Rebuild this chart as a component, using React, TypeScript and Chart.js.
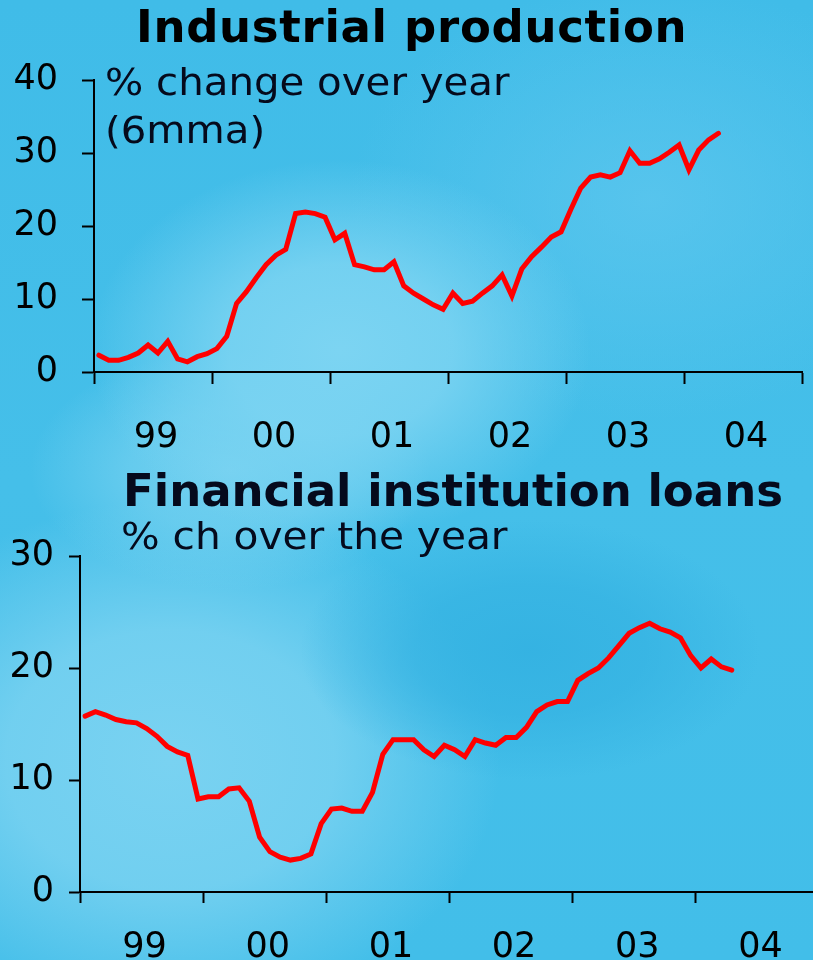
import React, { useEffect, useRef } from 'react';
import { Chart, registerables } from 'chart.js';

Chart.register(...registerables);

const FONT = '"DejaVu Sans", Verdana, sans-serif';

// Year labels shown under the x axis (each centred in its year)
const yearLabels: string[] = ['99', '00', '01', '02', '03', '04'];
const firstYear = 1999;

// Monthly observations, Jan 1999 .. Apr 2004
const industrialProduction: number[] = [
  2.3, 1.6, 1.6, 2.0, 2.6, 3.7, 2.6, 4.2, 1.8, 1.4,
  2.1, 2.5, 3.2, 4.9, 9.4, 11.0, 12.9, 14.7, 16.0, 16.8,
  21.7, 21.9, 21.7, 21.2, 18.1, 19.0, 14.7, 14.4, 14.0, 14.0,
  15.1, 11.8, 10.8, 10.0, 9.2, 8.6, 10.8, 9.4, 9.7, 10.8,
  11.8, 13.3, 10.4, 14.1, 15.8, 17.1, 18.5, 19.2, 22.3, 25.2,
  26.7, 27.0, 26.7, 27.3, 30.3, 28.6, 28.6, 29.2, 30.1, 31.1,
  27.7, 30.4, 31.8, 32.7,
];

const financialLoans: number[] = [
  15.7, 16.1, 15.8, 15.4, 15.2, 15.1, 14.6, 13.9, 13.0, 12.5,
  12.2, 8.3, 8.5, 8.5, 9.2, 9.3, 8.1, 4.9, 3.6, 3.1,
  2.85, 3.0, 3.4, 6.1, 7.4, 7.5, 7.2, 7.2, 8.9, 12.3,
  13.6, 13.6, 13.6, 12.7, 12.1, 13.1, 12.7, 12.1, 13.6, 13.3,
  13.1, 13.8, 13.8, 14.7, 16.1, 16.7, 17.0, 17.0, 18.9, 19.5,
  20.0, 20.9, 22.0, 23.1, 23.6, 24.0, 23.5, 23.2, 22.7, 21.1,
  20.0, 20.8, 20.1, 19.8,
];

const industrialTicks: number[] = [0, 10, 20, 30, 40];
const loansTicks: number[] = [0, 10, 20, 30];

// month labels "YYYY-MM" for each observation
const months: string[] = industrialProduction.map((_, i) => {
  const y = firstYear + Math.floor(i / 12);
  const m = (i % 12) + 1;
  return `${y}-${m < 10 ? '0' + m : m}`;
});

function monthPos(label: string): number {
  const [y, m] = label.split('-').map(Number);
  return (y - firstYear) * 12 + (m - 1) + 0.5; // centre of the month
}

type Geo = {
  canvasW: number;
  canvasH: number;
  areaLeft: number;
  areaRight: number;
  areaTop: number;
  areaBottom: number;
  tickLen: number;
  yPad: number;
  xPad: number;
  yMax: number;
  yTicks: number[];
};

function buildChart(canvas: HTMLCanvasElement, values: number[], g: Geo) {
  const axisTicks: number[] = [];
  for (let k = 0; k <= yearLabels.length * 12; k += 6) axisTicks.push(k);
  const isYearBoundary = (v: number) => Math.round(v) % 12 === 0;

  return new Chart(canvas, {
    type: 'line',
    data: {
      datasets: [
        {
          data: values.map((v, i) => ({ x: monthPos(months[i]), y: v })),
          borderColor: '#ff0000',
          borderWidth: 5,
          pointRadius: 0,
          fill: false,
          tension: 0,
          borderCapStyle: 'round',
          borderJoinStyle: 'miter',
        },
      ],
    },
    options: {
      responsive: false,
      animation: false,
      events: [],
      layout: {
        padding: {
          top: g.areaTop,
          left: 0,
          right: g.canvasW - g.areaRight,
          bottom: 0,
        },
      },
      plugins: {
        legend: { display: false },
        tooltip: { enabled: false },
        title: { display: false },
      },
      scales: {
        x: {
          type: 'linear',
          min: 0,
          max: yearLabels.length * 12,
          afterBuildTicks: (s: any) => {
            s.ticks = axisTicks.map((v) => ({ value: v }));
          },
          afterFit: (s: any) => {
            s.height = g.canvasH - g.areaBottom;
            s.paddingLeft = 0;
            s.paddingRight = 0;
          },
          grid: {
            drawOnChartArea: false,
            drawTicks: true,
            tickLength: g.tickLen,
            tickColor: (ctx: any) => (ctx.tick && isYearBoundary(ctx.tick.value) ? '#000' : 'rgba(0,0,0,0)'),
            tickWidth: (ctx: any) => (ctx.tick && isYearBoundary(ctx.tick.value) ? 2 : 0),
          },
          border: { display: true, color: '#000', width: 2 },
          ticks: {
            autoSkip: false,
            maxRotation: 0,
            minRotation: 0,
            padding: g.xPad,
            labelOffset: 3,
            color: '#000',
            font: { family: FONT, size: 35 },
            callback: (v: any) => {
              const n = Math.round(Number(v));
              if (n % 12 === 6) return yearLabels[(n - 6) / 12];
              return '';
            },
          },
        },
        y: {
          type: 'linear',
          min: 0,
          max: g.yMax,
          afterBuildTicks: (s: any) => {
            s.ticks = g.yTicks.map((v) => ({ value: v }));
          },
          afterFit: (s: any) => {
            s.width = g.areaLeft;
            s.paddingTop = 0;
            s.paddingBottom = 0;
          },
          grid: {
            drawOnChartArea: false,
            drawTicks: true,
            tickLength: g.tickLen,
            tickColor: '#000',
            tickWidth: 2,
          },
          border: { display: true, color: '#000', width: 2 },
          ticks: {
            padding: g.yPad,
            color: '#000',
            font: { family: FONT, size: 35 },
          },
        },
      },
    } as any,
  });
}

const topGeo: Geo = {
  canvasW: 813,
  canvasH: 460,
  areaLeft: 94,
  areaRight: 802,
  areaTop: 80,
  areaBottom: 372,
  tickLen: 12,
  yPad: 24,
  xPad: 33,
  yMax: 40,
  yTicks: industrialTicks,
};

const bottomGeo: Geo = {
  canvasW: 830,
  canvasH: 500,
  areaLeft: 80,
  areaRight: 819,
  areaTop: 96,
  areaBottom: 432,
  tickLen: 11,
  yPad: 15,
  xPad: 24,
  yMax: 30,
  yTicks: loansTicks,
};

const background = [
  'radial-gradient(ellipse 230px 130px at 530px 650px, rgba(52,178,226,0.95) 0%, rgba(52,178,226,0.7) 50%, rgba(52,178,226,0) 100%)',
  'radial-gradient(ellipse 250px 190px at 340px 350px, rgba(124,212,242,1) 0%, rgba(124,212,242,0.85) 45%, rgba(124,212,242,0) 100%)',
  'radial-gradient(ellipse 200px 120px at 230px 470px, rgba(122,211,241,0.9) 0%, rgba(122,211,241,0.6) 50%, rgba(122,211,241,0) 100%)',
  'radial-gradient(ellipse 330px 260px at 170px 760px, rgba(121,210,241,1) 0%, rgba(121,210,241,0.85) 50%, rgba(121,210,241,0) 100%)',
  'radial-gradient(ellipse 300px 220px at 650px 200px, rgba(92,198,238,0.8) 0%, rgba(92,198,238,0) 100%)',
  'linear-gradient(180deg, #40bce8 0%, #45bfe9 50%, #42bee9 100%)',
].join(',');

export default function App() {
  const topRef = useRef<HTMLCanvasElement | null>(null);
  const botRef = useRef<HTMLCanvasElement | null>(null);

  useEffect(() => {
    const c1 = buildChart(topRef.current!, industrialProduction, topGeo);
    const c2 = buildChart(botRef.current!, financialLoans, bottomGeo);
    return () => {
      c1.destroy();
      c2.destroy();
    };
  }, []);

  const titleStyle: React.CSSProperties = {
    position: 'absolute',
    fontFamily: FONT,
    fontWeight: 'bold',
    fontSize: 45,
    lineHeight: '45px',
    color: '#050a1c',
    whiteSpace: 'nowrap',
    transformOrigin: 'left top',
  };
  const subStyle: React.CSSProperties = {
    position: 'absolute',
    fontFamily: FONT,
    fontSize: 38,
    lineHeight: '48px',
    color: '#050a1c',
    whiteSpace: 'nowrap',
    transformOrigin: 'left top',
  };

  return (
    <div
      style={{
        position: 'absolute',
        left: 0,
        top: 0,
        width: 813,
        height: 960,
        overflow: 'hidden',
        background,
      }}
    >
      <canvas
        ref={topRef}
        width={topGeo.canvasW}
        height={topGeo.canvasH}
        style={{ position: 'absolute', left: 0, top: 0, width: topGeo.canvasW, height: topGeo.canvasH }}
      />
      <canvas
        ref={botRef}
        width={bottomGeo.canvasW}
        height={bottomGeo.canvasH}
        style={{ position: 'absolute', left: 0, top: 460, width: bottomGeo.canvasW, height: bottomGeo.canvasH }}
      />
      <div style={{ ...titleStyle, left: 136, top: 4, letterSpacing: '0.7px', color: '#000' }}>Industrial production</div>
      <div style={{ ...subStyle, left: 105, top: 58, transform: 'scaleX(1.06)' }}>
        % change over year
        <br />
        (6mma)
      </div>
      <div style={{ ...titleStyle, left: 123, top: 468 }}>Financial institution loans</div>
      <div style={{ ...subStyle, left: 121, top: 512, transform: 'scaleX(1.07)' }}>% ch over the year</div>
    </div>
  );
}
